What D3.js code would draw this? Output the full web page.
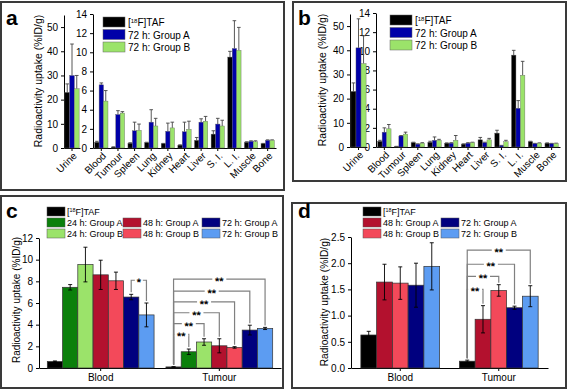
<!DOCTYPE html>
<html>
<head>
<meta charset="utf-8">
<script src="https://cdn.jsdelivr.net/npm/d3@7"></script>
<style>
  body { margin: 0; background: #fff; -webkit-font-smoothing: antialiased; }
  svg { display: block; font-family: Arial, "Liberation Sans", sans-serif; }
  svg text { fill: #000; }
  .axis text { font-size: 10px; fill: #000; }
  .axis path, .axis line { stroke: #000; stroke-width: 1; }
  .sig { font-size: 11px; font-weight: bold; fill: #000; text-rendering: geometricPrecision; }
</style>
</head>
<body>
<svg id="fig" width="567" height="391"></svg>
<script>
// ---------- data ----------
const organs = ["Blood", "Tumour", "Spleen", "Lung", "Kidney", "Heart", "Liver", "S. I.", "L. I.", "Muscle", "Bone"];
const seriesAB = ["TAF", "72 h: Group A", "72 h: Group B"];

// panel a
const urineA = [23, 30, 24.5];
const urineErrA = [3.5, 13, 5.5];
const tafA = [0.6, 0.1, 0.5, 0.55, 0.45, 0.3, 0.8, 1.45, 9.5, 0.6, 0.45];
const tafErrA = [0.1, 0.02, 0.05, 0.05, 0.03, 0.03, 0.3, 0.35, 0.6, 0.05, 0.03];
const grpAA = [6.6, 3.5, 1.8, 2.7, 1.75, 1.7, 2.7, 2.5, 10.4, 0.7, 0.8];
const grpAErrA = [0.2, 0.4, 0.9, 1.3, 0.85, 1.0, 0.35, 0.6, 2.9, 0.05, 0.05];
const grpBA = [4.9, 3.65, 1.85, 2.3, 2.1, 1.95, 2.8, 2.3, 10.2, 0.65, 0.8];
const grpBErrA = [1.1, 0.15, 0.65, 0.8, 0.6, 0.85, 0.5, 0.6, 2.4, 0.1, 0.05];

// panel b
const urineB = [23, 41, 34.5];
const urineErrB = [3.5, 12, 11.5];
const tafB = [0.6, 0.05, 0.45, 0.5, 0.4, 0.3, 0.75, 1.45, 9.6, 0.55, 0.4];
const tafErrB = [0.1, 0.02, 0.05, 0.1, 0.03, 0.03, 0.25, 0.3, 0.5, 0.05, 0.03];
const grpAB = [1.55, 1.15, 0.3, 0.7, 0.4, 0.4, 0.45, 0.15, 4.05, 0.35, 0.35];
const grpAErrB = [0.45, 0.05, 0.03, 0.35, 0.05, 0.05, 0.05, 0.02, 0.8, 0.03, 0.03];
const grpBB = [1.9, 1.35, 0.4, 0.7, 0.7, 0.45, 0.75, 0.55, 7.5, 0.4, 0.35];
const grpBErrB = [0.45, 0.2, 0.05, 0.1, 0.5, 0.05, 0.15, 0.15, 1.45, 0.03, 0.05];

// panel c
const catsCD = ["Blood", "Tumour"];
const seriesC = ["TAF", "24 h: Group A", "24 h: Group B", "48 h: Group A", "48 h: Group B", "72 h: Group A", "72 h: Group B"];
const bloodC = [0.6, 7.45, 9.55, 8.6, 8.05, 6.55, 4.9];
const bloodErrC = [0.05, 0.25, 1.6, 1.35, 0.8, 0.25, 1.1];
const tumourC = [0.1, 1.5, 2.4, 2.05, 1.9, 3.5, 3.65];
const tumourErrC = [0.02, 0.25, 0.3, 0.65, 0.07, 0.45, 0.1];
const sigC = [
  {cat: "Blood", from: 5, to: 6, level: 8.1, label: "*"},
  {cat: "Tumour", from: 0, to: 1, level: 3.1, label: "**"},
  {cat: "Tumour", from: 0, to: 2, level: 4.1, label: "**"},
  {cat: "Tumour", from: 0, to: 3, level: 5.1, label: "**"},
  {cat: "Tumour", from: 0, to: 4, level: 6.1, label: "**"},
  {cat: "Tumour", from: 0, to: 5, level: 7.1, label: "**"},
  {cat: "Tumour", from: 0, to: 6, level: 8.2, label: "**"}
];

// panel d
const seriesD = ["TAF", "48 h: Group A", "48 h: Group B", "72 h: Group A", "72 h: Group B"];
const bloodD = [0.63, 1.64, 1.62, 1.58, 1.94];
const bloodErrD = [0.07, 0.34, 0.31, 0.42, 0.45];
const tumourD = [0.13, 0.93, 1.48, 1.15, 1.37];
const tumourErrD = [0.02, 0.26, 0.11, 0.03, 0.2];
const sigD = [
  {cat: "Tumour", from: 0, to: 1, level: 1.5, label: "**"},
  {cat: "Tumour", from: 0, to: 2, level: 1.75, label: "**"},
  {cat: "Tumour", from: 0, to: 3, level: 1.98, label: "**"},
  {cat: "Tumour", from: 0, to: 4, level: 2.25, label: "**"}
];

// ---------- styles ----------
const colorsAB = ["#000000", "#0000a8", "#9be36a"];
const colorsC = ["#000000", "#0b800b", "#9be36a", "#b3112e", "#f3495a", "#00007f", "#5c9cf2"];
const colorsD = ["#000000", "#b3112e", "#f3495a", "#00007f", "#5c9cf2"];

const svg = d3.select("#fig");

function panelFrame(cfg) {
  svg.append("rect")
    .attr("x", cfg.box[0]).attr("y", cfg.box[1])
    .attr("width", cfg.box[2]).attr("height", cfg.box[3])
    .attr("fill", "none").attr("stroke", "#3a3a3a").attr("stroke-width", 2);
  svg.append("text")
    .attr("x", cfg.letterPos[0]).attr("y", cfg.letterPos[1])
    .style("font-size", "21px").style("font-weight", "bold")
    .text(cfg.letter);
  svg.append("text")
    .attr("transform", `translate(${cfg.yLabelPos[0]},${cfg.yLabelPos[1]}) rotate(-90)`)
    .attr("text-anchor", "middle")
    .style("font-size", cfg.yLabelSize + "px")
    .text("Radioactivity uptake (%ID/g)");
}

function tafLabel(sel, name) {
  if (name === "TAF") {
    sel.append("tspan").text("[");
    sel.append("tspan").attr("dy", -3.5).style("font-size", "0.6em").text("18");
    sel.append("tspan").attr("dy", 3.5).text("F]TAF");
  } else {
    sel.text(name);
  }
}

// ---------- panels a / b ----------
function drawOrganPanel(cfg, urine, urineErr, vals, errs) {
  panelFrame(cfg);
  const g = svg.append("g");

  const yU = d3.scaleLinear().domain([0, 55]).range([cfg.bottom, cfg.uTop]);
  const yO = d3.scaleLinear().domain([0, 14]).range([cfg.bottom, cfg.oTop]);
  const xU = d3.scaleBand().domain(["Urine"]).range([cfg.uAxis, cfg.uRight]).paddingOuter(0.06);
  const xO = d3.scaleBand().domain(organs).range([cfg.oAxis, cfg.oRight]).paddingInner(0.2).paddingOuter(0.1);
  const sU = d3.scaleBand().domain(d3.range(3)).range([0, xU.bandwidth()]);
  const sO = d3.scaleBand().domain(d3.range(3)).range([0, xO.bandwidth()]);

  const rot = s => s.selectAll(".tick text")
    .attr("x", 0).attr("y", 0).attr("dy", "0.35em")
    .attr("transform", "translate(3,6) rotate(-45)")
    .style("text-anchor", "end");

  g.append("g").attr("class", "axis").attr("transform", `translate(${cfg.uAxis},0)`)
    .call(d3.axisLeft(yU).tickValues([0, 10, 20, 30, 40, 50]).tickSize(3).tickSizeOuter(0));
  g.append("g").attr("class", "axis").attr("transform", `translate(${cfg.oAxis},0)`)
    .call(d3.axisLeft(yO).tickValues(d3.range(0, 15, 2)).tickSize(3).tickSizeOuter(0));
  g.append("g").attr("class", "axis").attr("transform", `translate(0,${cfg.bottom})`)
    .call(d3.axisBottom(xU).tickSize(3).tickSizeOuter(0)).call(rot);
  g.append("g").attr("class", "axis").attr("transform", `translate(0,${cfg.bottom})`)
    .call(d3.axisBottom(xO).tickSize(3).tickSizeOuter(0)).call(rot);

  const urineRows = urine.map((v, i) => ({i, v, e: urineErr[i], x: xU("Urine") + sU(i), w: sU.bandwidth(), y: yU}));
  const organRows = [];
  organs.forEach((o, k) => vals.forEach((s, i) =>
    organRows.push({i, v: s[k], e: errs[i][k], x: xO(o) + sO(i), w: sO.bandwidth(), y: yO})));
  const rows = urineRows.concat(organRows);

  g.selectAll(".err").data(rows).join("path")
    .attr("class", "err")
    .attr("d", d => {
      const cx = d.x + d.w / 2, top = d.y(d.v + d.e);
      return `M${cx},${d.y(d.v)}V${top}M${cx - 1.8},${top}H${cx + 1.8}`;
    })
    .attr("stroke", "#444").attr("stroke-width", 0.9).attr("fill", "none");

  g.selectAll(".bar").data(rows).join("rect")
    .attr("class", "bar")
    .attr("x", d => d.x).attr("width", d => d.w)
    .attr("y", d => d.y(d.v)).attr("height", d => cfg.bottom - d.y(d.v))
    .attr("fill", d => colorsAB[d.i])
    .attr("stroke", "#666").attr("stroke-width", 0.4);

  const lg = g.append("g").attr("transform", `translate(${cfg.legend[0]},${cfg.legend[1]})`);
  seriesAB.forEach((s, i) => {
    lg.append("rect").attr("x", 0).attr("y", i * 12.5).attr("width", 22).attr("height", 10)
      .attr("fill", colorsAB[i]).attr("stroke", "#666").attr("stroke-width", 0.5);
    lg.append("text").attr("x", 25).attr("y", i * 12.5 + 9).style("font-size", "10px")
      .call(t => tafLabel(t, s));
  });
}

// ---------- panels c / d ----------
function drawTimePanel(cfg, series, colors, vals, errs, sig) {
  panelFrame(cfg);
  const g = svg.append("g");

  const y = d3.scaleLinear().domain([0, cfg.yMax]).range([cfg.bottom, cfg.top]);
  const x = d3.scaleBand().domain(catsCD).range([cfg.axisX, cfg.right])
    .paddingInner(cfg.padIn).paddingOuter(cfg.padOut);
  const s = d3.scaleBand().domain(d3.range(series.length)).range([0, x.bandwidth()]);

  g.append("g").attr("class", "axis").attr("transform", `translate(${cfg.axisX},0)`)
    .call(d3.axisLeft(y).tickValues(d3.range(0, cfg.yMax + 1e-9, cfg.yStep))
      .tickFormat(cfg.fmt).tickSize(3).tickSizeOuter(0));
  g.append("g").attr("class", "axis").attr("transform", `translate(0,${cfg.bottom})`)
    .call(d3.axisBottom(x).tickSize(3).tickSizeOuter(0));

  const rows = [];
  catsCD.forEach((c, k) => series.forEach((n, i) =>
    rows.push({c, i, v: vals[k][i], e: errs[k][i], x: x(c) + s(i), w: s.bandwidth()})));

  g.selectAll(".bar").data(rows).join("rect")
    .attr("class", "bar")
    .attr("x", d => d.x).attr("width", d => d.w)
    .attr("y", d => y(d.v)).attr("height", d => cfg.bottom - y(d.v))
    .attr("fill", d => colors[d.i])
    .attr("stroke", "#333").attr("stroke-width", 0.7);

  g.selectAll(".err").data(rows).join("path")
    .attr("class", "err")
    .attr("d", d => {
      const cx = d.x + d.w / 2, t = y(d.v + d.e), b = y(d.v - d.e);
      return `M${cx},${b}V${t}M${cx - 2},${t}H${cx + 2}M${cx - 2},${b}H${cx + 2}`;
    })
    .attr("stroke", "#000").attr("stroke-width", 0.9).attr("fill", "none");

  // significance brackets
  const find = (c, i) => rows.find(r => r.c === c && r.i === i);
  sig.forEach(b => {
    const a = find(b.cat, b.from), z = find(b.cat, b.to);
    const xa = a.x + a.w / 2, xz = z.x + z.w / 2, ly = y(b.level);
    g.append("path")
      .attr("d", `M${xa},${y(a.v + a.e) - 2}V${ly}H${xz}V${y(z.v + z.e) - 2}`)
      .attr("fill", "none").attr("stroke", "#808080").attr("stroke-width", 1.2);
    const mx = (xa + xz) / 2, wdt = b.label.length * 6 + 2;
    g.append("rect").attr("x", mx - wdt / 2).attr("y", ly - 2).attr("width", wdt).attr("height", 4)
      .attr("fill", "#fff");
    g.append("text").attr("class", "sig").attr("x", mx).attr("y", ly + 6).attr("text-anchor", "middle")
      .text(b.label);
  });

  // legend
  const lg = g.append("g");
  series.forEach((n, i) => {
    const col = i === 0 ? 0 : Math.floor((i - 1) / 2);
    const row = i === 0 ? 0 : 1 + (i - 1) % 2;
    const lx = cfg.legendCols[col], ly = cfg.legendRows[row];
    lg.append("rect").attr("x", lx).attr("y", ly).attr("width", 18).attr("height", 9)
      .attr("fill", colors[i]).attr("stroke", "#555").attr("stroke-width", 0.5);
    lg.append("text").attr("x", lx + 20).attr("y", ly + 8).style("font-size", "9px")
      .call(t => tafLabel(t, n));
  });
}

drawOrganPanel({
  box: [1, 2, 283, 188], letter: "a", letterPos: [6, 25], yLabelPos: [42, 81], yLabelSize: 10.5,
  bottom: 148, uTop: 15, oTop: 14, uAxis: 64, uRight: 80, oAxis: 93, oRight: 276, legend: [103, 17]
}, urineA, urineErrA, [tafA, grpAA, grpBA], [tafErrA, grpAErrA, grpBErrA]);

drawOrganPanel({
  box: [293, 2, 273, 179], letter: "b", letterPos: [298, 25], yLabelPos: [326, 80], yLabelSize: 10.5,
  bottom: 147, uTop: 14, oTop: 13, uAxis: 350, uRight: 367, oAxis: 376, oRight: 560, legend: [390, 15]
}, urineB, urineErrB, [tafB, grpAB, grpBB], [tafErrB, grpAErrB, grpBErrB]);

drawTimePanel({
  box: [1, 196, 282, 192], letter: "c", letterPos: [6, 218], yLabelPos: [20, 300], yLabelSize: 10,
  bottom: 368, top: 238, yMax: 12, yStep: 2, fmt: d3.format("d"),
  axisX: 39, right: 281, padIn: 0.1, padOut: 0.07,
  legendCols: [47, 123, 202], legendRows: [207, 218, 229]
}, seriesC, colorsC, [bloodC, tumourC], [bloodErrC, tumourErrC], sigC);

drawTimePanel({
  box: [292, 203, 274, 185], letter: "d", letterPos: [298, 218], yLabelPos: [328, 302], yLabelSize: 10.2,
  bottom: 368, top: 237, yMax: 2.5, yStep: 0.5, fmt: d3.format(".1f"),
  axisX: 351, right: 548, padIn: 0.2, padOut: 0.1,
  legendCols: [363, 441], legendRows: [207, 218, 229]
}, seriesD, colorsD, [bloodD, tumourD], [bloodErrD, tumourErrD], sigD);
</script>
</body>
</html>
